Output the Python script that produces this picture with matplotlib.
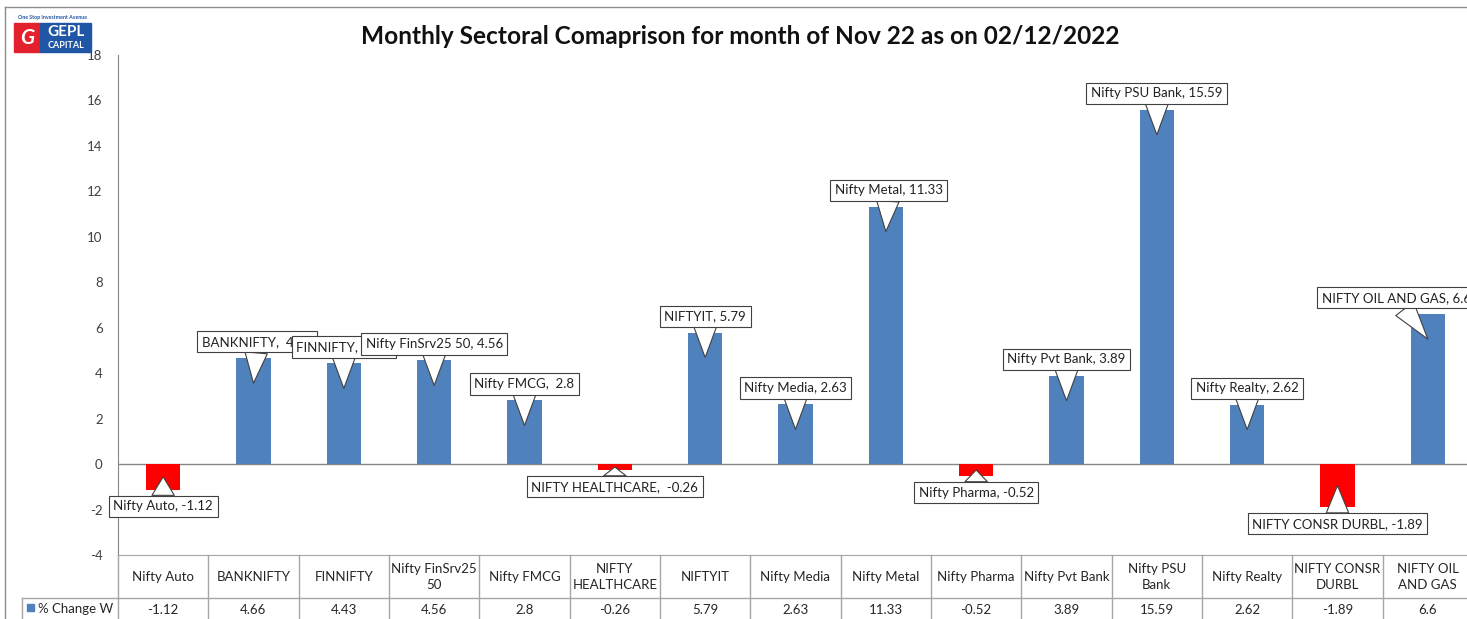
## monthly sectoral comparison chart, excel style with data table below


import matplotlib
matplotlib.use("Agg")
import matplotlib.pyplot as plt
import matplotlib.transforms as mtransforms
from matplotlib.patches import Rectangle

plt.rcParams['font.family'] = ['Lato', 'DejaVu Sans']
plt.rcParams['axes.unicode_minus'] = False

sectors = ["Nifty Auto", "BANKNIFTY", "FINNIFTY", "Nifty FinSrv25 50", "Nifty FMCG",
           "NIFTY HEALTHCARE", "NIFTYIT", "Nifty Media", "Nifty Metal", "Nifty Pharma",
           "Nifty Pvt Bank", "Nifty PSU Bank", "Nifty Realty", "NIFTY CONSR DURBL",
           "NIFTY OIL AND GAS"]
table_labels = ["Nifty Auto", "BANKNIFTY", "FINNIFTY", "Nifty FinSrv25\n50", "Nifty FMCG",
                "NIFTY\nHEALTHCARE", "NIFTYIT", "Nifty Media", "Nifty Metal", "Nifty Pharma",
                "Nifty Pvt Bank", "Nifty PSU\nBank", "Nifty Realty", "NIFTY CONSR\nDURBL",
                "NIFTY OIL\nAND GAS"]
pct_change = [-1.12, 4.66, 4.43, 4.56, 2.8, -0.26, 5.79, 2.63, 11.33, -0.52,
              3.89, 15.59, 2.62, -1.89, 6.6]
series_name = "% Change W"
y_ticks = list(range(-4, 19, 2))
title = "Monthly Sectoral Comaprison for month of Nov 22 as on 02/12/2022"

# callout tweaks (style only)
double_space = {"BANKNIFTY", "FINNIFTY", "Nifty FMCG", "NIFTY HEALTHCARE"}
label_dx = {1: 0.04, 8: 0.03, 14: -0.35}

W, H = 1467, 619
BLUE = "#4F81BD"
RED = "#FF0000"
GRID = "#A6A6A6"


def fx(px):
    return px / W


def fy(py):
    return 1 - py / H


fig = plt.figure(figsize=(W / 100, H / 100), dpi=100)
ax = fig.add_axes([fx(118), fy(555), fx(1473) - fx(118), fy(55) - fy(555)])

x = list(range(len(sectors)))
colors = [BLUE if v >= 0 else RED for v in pct_change]
ax.bar(x, pct_change, width=0.38, color=colors, zorder=2)

ax.set_xlim(-0.5, len(sectors) - 0.5)
ax.set_ylim(-4, 18)
ax.set_yticks(y_ticks)
ax.tick_params(axis='y', length=0, pad=11, labelsize=9.5, labelcolor="#404040")
ax.set_xticks([])
for s in ["top", "right"]:
    ax.spines[s].set_visible(False)
ax.spines["left"].set_color("#868686")
ax.spines["bottom"].set_color(GRID)
ax.axhline(0, color="#868686", lw=1, zorder=1)

# callouts
for i, (name, v) in enumerate(zip(sectors, pct_change)):
    sep = ",  " if name in double_space else ", "
    text = f"{name}{sep}{v:g}"
    tip = v - 1.1 if v > 0 else v * 0.5
    ty = v + 0.72 if v > 0 else v - 0.74
    ax.annotate(text, xy=(i, tip), xytext=(i + label_dx.get(i, 0), ty),
                ha="center", va="center", fontsize=9.5, color="#222222",
                bbox=dict(boxstyle="square,pad=0.35", fc="white", ec="#404040", lw=0.8),
                arrowprops=dict(arrowstyle="wedge,tail_width=1.7,shrink_factor=0.5",
                                fc="white", ec="#404040", lw=0.8,
                                shrinkA=0, shrinkB=0),
                zorder=4 + i, annotation_clip=False)

# data table under the plot
trans = mtransforms.blended_transform_factory(ax.transData, ax.transAxes)
row_mid = (555 - 598) / 500
row_bot = (555 - 630) / 500
for k in range(len(sectors) + 1):
    ax.plot([k - 0.5, k - 0.5], [0, row_bot], transform=trans, color=GRID, lw=1, clip_on=False)
ax.plot([-0.5, len(sectors) - 0.5], [row_mid, row_mid], transform=trans,
        color=GRID, lw=1, clip_on=False)
for i, (lab, v) in enumerate(zip(table_labels, pct_change)):
    ax.text(i, (555 - 577) / 500, lab, transform=trans, ha="center", va="center",
            fontsize=9.5, color="#262626", linespacing=1.45)
    ax.text(i, (555 - 610) / 500, f"{v:g}", transform=trans, ha="center", va="center",
            fontsize=9.5, color="#262626")

# legend key cell
fig.lines.append(plt.Line2D([fx(22), fx(118)], [fy(598), fy(598)], color=GRID, lw=1,
                            transform=fig.transFigure))
fig.lines.append(plt.Line2D([fx(22), fx(22)], [fy(598), fy(625)], color=GRID, lw=1,
                            transform=fig.transFigure))
fig.patches.append(Rectangle((fx(27), fy(611)), fx(7), fy(604) - fy(611), color=BLUE,
                             transform=fig.transFigure))
fig.text(fx(38), fy(609), series_name, ha="left", va="center", fontsize=9.5, color="#262626")

# chart area border
fig.lines.append(plt.Line2D([fx(5), fx(5)], [fy(7), 0], color="#8C8C8C", lw=1,
                            transform=fig.transFigure))
fig.lines.append(plt.Line2D([fx(5), 1], [fy(7), fy(7)], color="#8C8C8C", lw=1,
                            transform=fig.transFigure))

fig.text(fx(740), fy(37), title, ha="center", va="center", fontsize=17.6, fontweight="bold",
         color="#111111")

# logo
fig.patches.append(Rectangle((fx(14), fy(52)), fx(26), fy(23) - fy(52), color="#E3202E",
                             transform=fig.transFigure, zorder=10))
fig.patches.append(Rectangle((fx(40), fy(52)), fx(51), fy(23) - fy(52), color="#1F56A5",
                             transform=fig.transFigure, zorder=10))
fig.text(fx(52), fy(17), "One Stop Investment Avenue", ha="center", va="center",
         fontsize=3.8, color="#1F56A5", fontweight="bold", zorder=11)
fig.text(fx(27), fy(38), "G", ha="center", va="center", fontsize=15, color="white",
         fontstyle="italic", fontweight="bold", zorder=11)
fig.text(fx(66), fy(32), "GEPL", ha="center", va="center", fontsize=11, color="white",
         fontweight="bold", zorder=11)
fig.text(fx(66), fy(45), "CAPITAL", ha="center", va="center", fontsize=6.5, color="white",
         fontweight="bold", zorder=11)

fig.savefig("out.png", dpi=100)
